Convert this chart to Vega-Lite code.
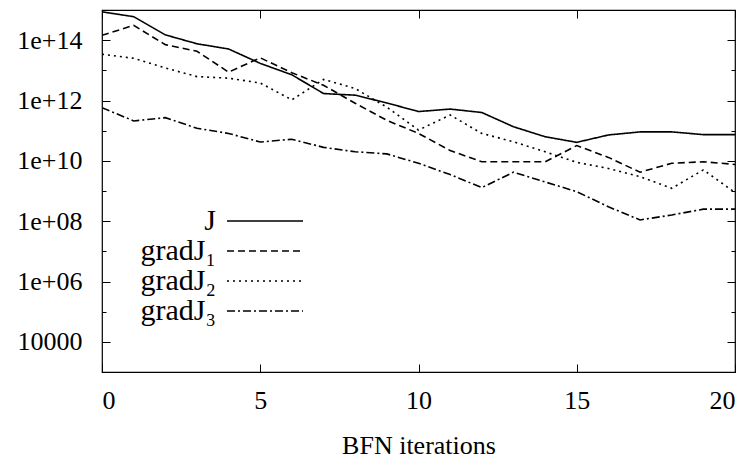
{
  "$schema": "https://vega.github.io/schema/vega-lite/v6.json",
  "width": 633,
  "height": 362,
  "autosize": {"type": "none"},
  "padding": {"left": 102, "top": 10, "right": 18, "bottom": 87},
  "background": "white",
  "config": {
    "view": {"stroke": "black", "strokeWidth": 1.2},
    "font": "Liberation Serif, Times New Roman, serif",
    "axis": {"labelFont": "Liberation Serif, Times New Roman, serif", "titleFont": "Liberation Serif, Times New Roman, serif", "labelColor": "black", "titleColor": "black", "domainColor": "black", "tickColor": "black", "grid": false, "labelFontSize": 26, "titleFontSize": 26, "titleFontWeight": "normal"}
  },
  "data": {
    "values": [
      {"iter": 0, "J": 8.7e14, "gradJ₁": 1.45e14, "gradJ₂": 3.4e13, "gradJ₃": 5.8e11},
      {"iter": 1, "J": 6.0e14, "gradJ₁": 3.1e14, "gradJ₂": 2.5e13, "gradJ₃": 2.1e11},
      {"iter": 2, "J": 1.5e14, "gradJ₁": 7.1e13, "gradJ₂": 1.2e13, "gradJ₃": 2.7e11},
      {"iter": 3, "J": 7.6e13, "gradJ₁": 4.3e13, "gradJ₂": 6.2e12, "gradJ₃": 1.2e11},
      {"iter": 4, "J": 5.1e13, "gradJ₁": 8.7e12, "gradJ₂": 5.5e12, "gradJ₃": 8.1e10},
      {"iter": 5, "J": 1.7e13, "gradJ₁": 2.6e13, "gradJ₂": 3.8e12, "gradJ₃": 4.2e10},
      {"iter": 6, "J": 7.1e12, "gradJ₁": 8.3e12, "gradJ₂": 1.05e12, "gradJ₃": 5.2e10},
      {"iter": 7, "J": 1.7e12, "gradJ₁": 3.2e12, "gradJ₂": 5.0e12, "gradJ₃": 2.8e10},
      {"iter": 8, "J": 1.5e12, "gradJ₁": 8.1e11, "gradJ₂": 2.5e12, "gradJ₃": 2.0e10},
      {"iter": 9, "J": 8.3e11, "gradJ₁": 2.2e11, "gradJ₂": 6.0e11, "gradJ₃": 1.7e10},
      {"iter": 10, "J": 4.3e11, "gradJ₁": 8.1e10, "gradJ₂": 1.05e11, "gradJ₃": 8.3e9},
      {"iter": 11, "J": 5.2e11, "gradJ₁": 2.2e10, "gradJ₂": 3.3e11, "gradJ₃": 3.5e9},
      {"iter": 12, "J": 4.0e11, "gradJ₁": 9.3e9, "gradJ₂": 8.1e10, "gradJ₃": 1.3e9},
      {"iter": 13, "J": 1.35e11, "gradJ₁": 9.3e9, "gradJ₂": 4.3e10, "gradJ₃": 4.2e9},
      {"iter": 14, "J": 6.3e10, "gradJ₁": 9.3e9, "gradJ₂": 2.0e10, "gradJ₃": 2.0e9},
      {"iter": 15, "J": 4.1e10, "gradJ₁": 3.2e10, "gradJ₂": 8.9e9, "gradJ₃": 9.5e8},
      {"iter": 16, "J": 7.2e10, "gradJ₁": 1.3e10, "gradJ₂": 5.6e9, "gradJ₃": 3.0e8},
      {"iter": 17, "J": 9.1e10, "gradJ₁": 4.2e9, "gradJ₂": 3.0e9, "gradJ₃": 1.1e8},
      {"iter": 18, "J": 9.1e10, "gradJ₁": 8.3e9, "gradJ₂": 1.23e9, "gradJ₃": 1.6e8},
      {"iter": 19, "J": 7.4e10, "gradJ₁": 9.3e9, "gradJ₂": 5.0e9, "gradJ₃": 2.5e8},
      {"iter": 20, "J": 7.4e10, "gradJ₁": 7.6e9, "gradJ₂": 8.9e8, "gradJ₃": 2.5e8}
    ]
  },
  "transform": [{"fold": ["J", "gradJ₁", "gradJ₂", "gradJ₃"], "as": ["series", "value"]}],
  "layer": [
    {
      "mark": {"type": "line", "color": "black", "strokeWidth": 1.6, "clip": true},
      "encoding": {
        "x": {"field": "iter", "type": "quantitative", "scale": {"domain": [0, 20], "nice": false, "zero": false},
              "axis": {"values": [0, 5, 10, 15, 20], "tickSize": -8, "labelPadding": 23, "labelBaseline": "top", "title": "BFN iterations", "titleFont": "Liberation Serif, Times New Roman, serif", "titlePadding": 19, "domain": false}},
        "y": {"field": "value", "type": "quantitative", "scale": {"type": "log", "domain": [1000, 1e15], "nice": false},
              "axis": {"values": [1e4, 1e5, 1e6, 1e7, 1e8, 1e9, 1e10, 1e11, 1e12, 1e13, 1e14], "title": null, "domain": false,
                       "tickSize": {"condition": {"test": "round(log(datum.value)/LN10) % 2 == 1", "value": -4}, "value": -8},
                       "labelPadding": 28,
                       "labelExpr": "datum.value == 10000 ? '10000' : (round(log(datum.value)/LN10) % 2 == 0 ? '1e+' + (round(log(datum.value)/LN10) < 10 ? '0' : '') + round(log(datum.value)/LN10) : '')"}},
        "strokeDash": {"field": "series", "type": "nominal",
                       "scale": {"domain": ["J", "gradJ₁", "gradJ₂", "gradJ₃"], "range": [[1, 0], [7, 4], [2, 4], [8, 3, 2, 3]]},
                       "legend": {"orient": "none", "legendX": 148, "legendY": 196, "title": null, "symbolType": "M-4,0H4", "symbolSize": 361,
                                  "symbolStrokeWidth": 1.5, "symbolStrokeColor": "black", "symbolFillColor": "transparent", "labelFont": "Liberation Serif, Times New Roman, serif", "labelFontSize": 30,
                                  "labelColor": "black", "labelAlign": "right", "labelOffset": -64, "rowPadding": -2}}
      }
    },
    {
      "mark": {"type": "line", "strokeOpacity": 0},
      "encoding": {
        "x": {"field": "iter", "type": "quantitative", "axis": {"orient": "top", "values": [0, 5, 10, 15, 20], "tickSize": -8, "labels": false, "title": null, "domain": false}},
        "y": {"field": "value", "type": "quantitative", "axis": {"orient": "right", "values": [1e4, 1e5, 1e6, 1e7, 1e8, 1e9, 1e10, 1e11, 1e12, 1e13, 1e14], "labels": false, "title": null, "domain": false,
              "tickSize": {"condition": {"test": "round(log(datum.value)/LN10) % 2 == 1", "value": -4}, "value": -8}}},
        "detail": {"field": "series", "type": "nominal"}
      }
    }
  ],
  "resolve": {"axis": {"x": "independent", "y": "independent"}}
}
